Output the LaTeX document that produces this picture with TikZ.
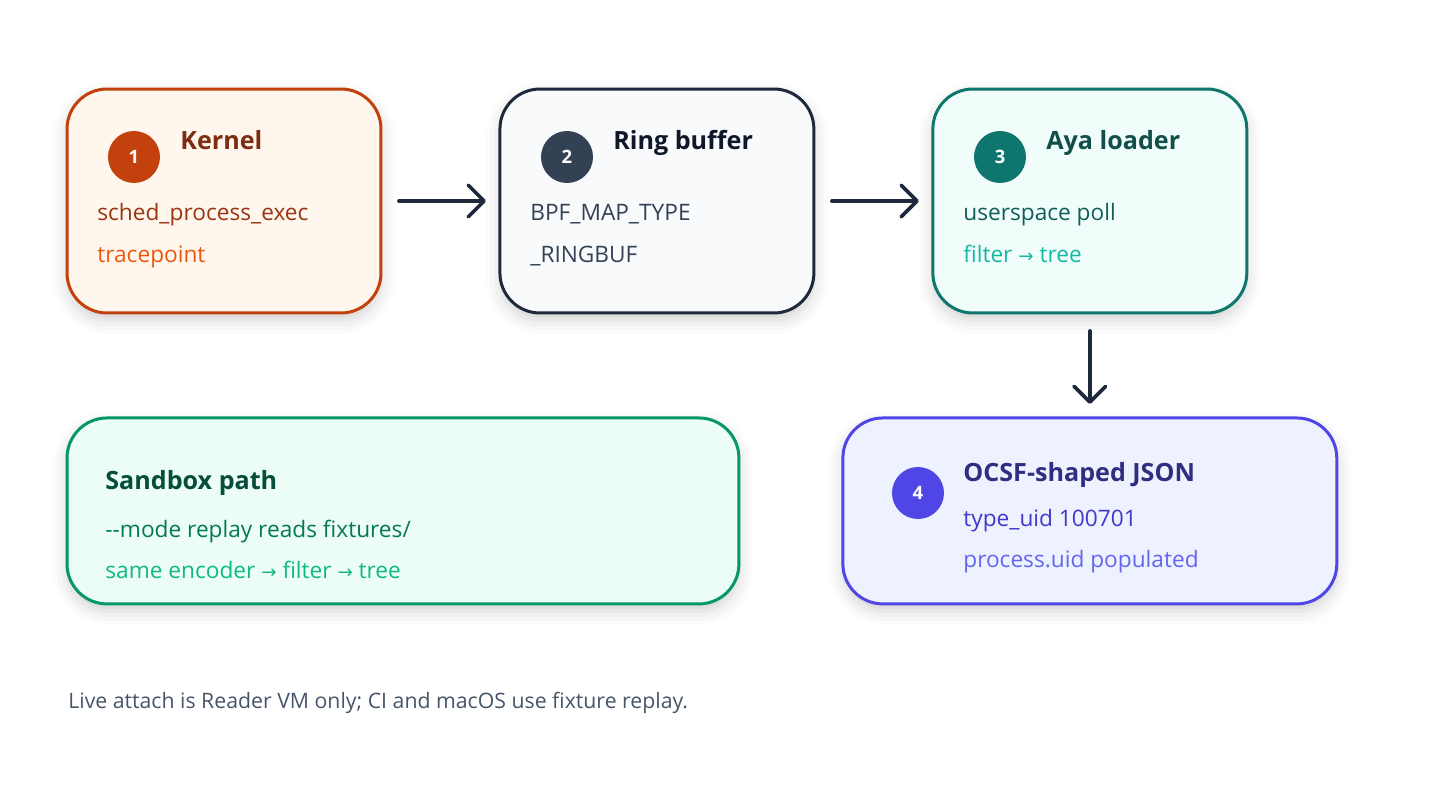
\documentclass[tikz,border=0pt]{standalone}
\usepackage{fontspec}
\setmainfont{Open Sans}
\newfontfamily\arrowfont{DejaVu Sans}
\usepackage{xcolor}
\usepackage{tikz}
\usetikzlibrary{arrows.meta, positioning, shadows.blur}
\definecolor{kernelline}{HTML}{C2410C}
\definecolor{kernelfill}{HTML}{FFF7ED}
\definecolor{kerneltitle}{HTML}{7C2D12}
\definecolor{kerneltext}{HTML}{9A3412}
\definecolor{kernelsub}{HTML}{EA580C}
\definecolor{ringline}{HTML}{1E293B}
\definecolor{ringfill}{HTML}{F8FAFC}
\definecolor{ringtitle}{HTML}{0F172A}
\definecolor{ringtext}{HTML}{334155}
\definecolor{ayaline}{HTML}{0F766E}
\definecolor{ayafill}{HTML}{F0FDFA}
\definecolor{ayatitle}{HTML}{134E4A}
\definecolor{ayatext}{HTML}{115E59}
\definecolor{ayasub}{HTML}{14B8A6}
\definecolor{sandline}{HTML}{059669}
\definecolor{sandfill}{HTML}{ECFDF5}
\definecolor{sandtitle}{HTML}{064E3B}
\definecolor{sandtext}{HTML}{047857}
\definecolor{sandsub}{HTML}{10B981}
\definecolor{ocsfline}{HTML}{4F46E5}
\definecolor{ocsffill}{HTML}{EEF2FF}
\definecolor{ocsftitle}{HTML}{312E81}
\definecolor{ocsftext}{HTML}{4338CA}
\definecolor{ocsfsub}{HTML}{6366F1}
\definecolor{footgray}{HTML}{475569}
\definecolor{arrowdark}{HTML}{1E293B}
\newcommand{\toarrow}{{\arrowfont\fontsize{10.4}{12}\selectfont →}}

\begin{document}
\begin{tikzpicture}[
  x=0.02cm, y=-0.02cm,
  stage/.style={rectangle, draw, line width=1.7pt, rounded corners=0.8cm, outer sep=0pt,
                minimum width=6.28cm, minimum height=4.48cm,
                blur shadow={shadow xshift=0pt, shadow yshift=-4pt,
                             shadow blur radius=8pt, shadow opacity=18}},
  wide/.style={stage, minimum height=3.72cm},
  badge/.style={circle, minimum size=1.04cm, inner sep=0pt, text=white,
                font=\bfseries\fontsize{10.5}{12}\selectfont},
  title/.style={anchor=base west, inner sep=0pt,
                font=\bfseries\fontsize{14.3}{17}\selectfont},
  body/.style={anchor=base west, inner sep=0pt,
               font=\fontsize{12.9}{15}\selectfont},
  flow/.style={-{Straight Barb[length=9pt, width=18pt, line cap=round, line join=round]},
               line width=2.1pt, draw=arrowdark, line cap=round,
               shorten <=0.36cm, shorten >=0.28cm},
  node distance=2.38cm
]
\useasboundingbox (0,0) rectangle (1456,784);

\node[stage, draw=kernelline, fill=kernelfill] (kernel) at (224,201) {};
\node[stage, draw=ringline, fill=ringfill, right=of kernel] (ring) {};
\node[stage, draw=ayaline, fill=ayafill, right=of ring] (aya) {};
\node[wide, draw=ocsfline, fill=ocsffill, minimum width=9.88cm, below=2.1cm of aya] (ocsf) {};
\node[wide, draw=sandline, fill=sandfill, minimum width=13.44cm,
      below=2.1cm of kernel.south west, anchor=north west] (sandbox) {};

\node[badge, fill=kernelline] (kernelnum) at (134,157) {1};
\node[title, text=kerneltitle] (kerneltitle) at (180,149) {Kernel};
\node[body, text=kerneltext] (kernelhook) at (97,220) {sched\_process\_exec};
\node[body, text=kernelsub] (kernelkind) at (97,262) {tracepoint};

\node[badge, fill=ringtext] (ringnum) at (567,157) {2};
\node[title, text=ringtitle] (ringtitle) at (613,149) {Ring buffer};
\node[body, text=ringtext] (ringmap) at (530,220) {BPF\_MAP\_TYPE};
\node[body, text=ringtext] (ringkind) at (530,262) {\_RINGBUF};

\node[badge, fill=ayaline] (ayanum) at (1000,157) {3};
\node[title, text=ayatitle] (ayatitle) at (1046,149) {Aya loader};
\node[body, text=ayatext] (ayapoll) at (963,220) {userspace poll};
\node[body, text=ayasub] (ayafilter) at (963,262) {filter \toarrow{} tree};

\node[badge, fill=ocsfline] (ocsfnum) at (918,493) {4};
\node[title, text=ocsftitle] (ocsftitle) at (963,481) {OCSF-shaped JSON};
\node[body, text=ocsftext] (ocsftype) at (963,526) {type\_uid 100701};
\node[body, text=ocsfsub] (ocsfuid) at (963,567) {process.uid populated};

\node[title, text=sandtitle] (sandtitle) at (105,489) {Sandbox path};
\node[body, text=sandtext] (sandmode) at (105,537) {-{}-mode replay reads fixtures/};
\node[body, text=sandsub] (sandpipe) at (105,578) {same encoder \toarrow{} filter \toarrow{} tree};

\node[anchor=base west, inner sep=0pt, text=footgray, font=\fontsize{12.1}{14}\selectfont]
  (footnote) at (68,708) {Live attach is Reader VM only; CI and macOS use fixture replay.};

\draw[flow] (kernel) -- (ring);
\draw[flow] (ring) -- (aya);
\draw[flow] (aya) -- (ocsf);
\end{tikzpicture}
\end{document}
